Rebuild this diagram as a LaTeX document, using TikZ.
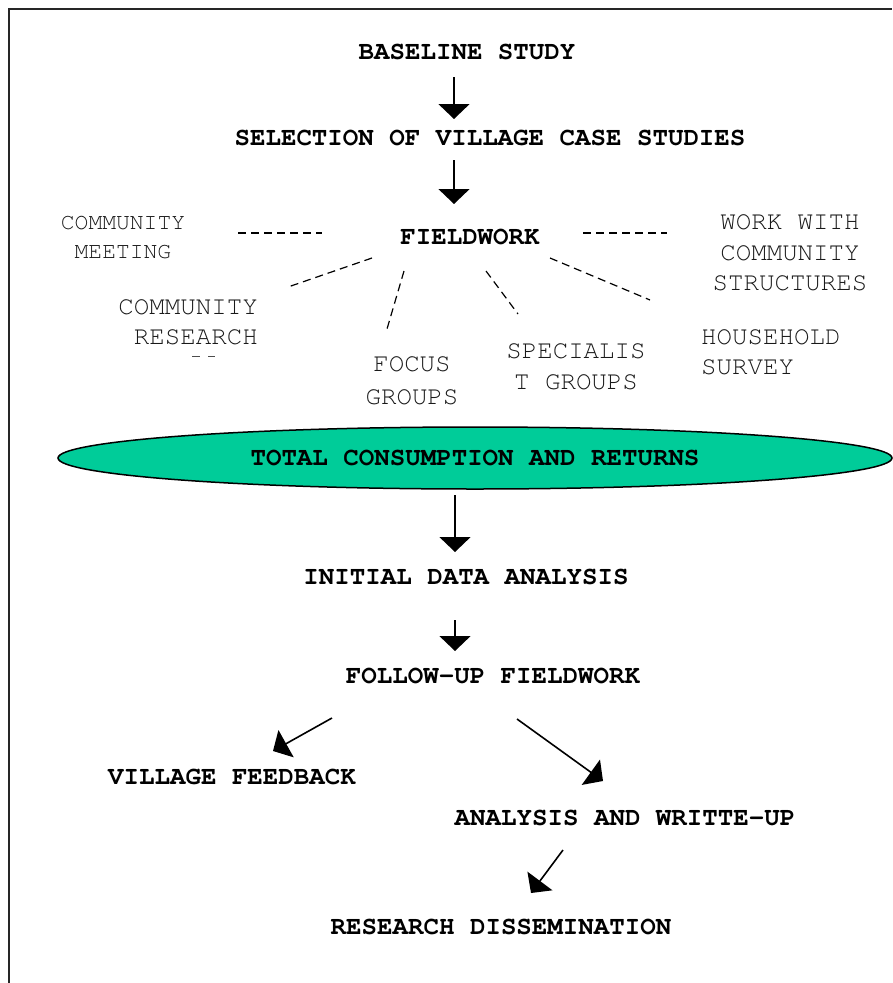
\documentclass[tikz,border=0pt]{standalone}
\usepackage{fontspec}
\usetikzlibrary{arrows.meta,shapes.geometric}
\newfontfamily\cour{TeX Gyre Cursor}
\definecolor{ellfill}{RGB}{0,204,153}
\tikzset{
  bt/.style={font=\cour\bfseries\fontsize{25.8pt}{30pt}\selectfont, inner sep=0pt, text=black},
  rt/.style={font=\cour\fontsize{25.8pt}{30.5pt}\selectfont, inner sep=0pt, text=black!90},
  smalltxt/.style={font=\cour\fontsize{23pt}{29pt}\selectfont, inner sep=0pt, text=black!90},
  arr/.style={line width=1.6pt, -{Triangle[length=15pt,width=31pt]}},
  dsh/.style={line width=1.2pt, dash pattern=on 8pt off 5pt},
  frame/.style={line width=1.6pt, draw=black!85}
}
\begin{document}
\begin{tikzpicture}[x=1pt,y=-1pt]
\useasboundingbox (0,0) rectangle (892,983);
% frame
\coordinate (fbl) at (9,983);
\coordinate (ftl) at (9,9);
\coordinate (ftr) at (892,9);
\draw[frame] (fbl) -- (ftl) -- (ftr);

% main chain
\node[bt] (base) at (467,52) {BASELINE STUDY};
\node[bt] (sel) at (490,138) {SELECTION OF VILLAGE CASE STUDIES};
\node[bt] (field) at (470,237) {FIELDWORK};

% side items
\node[smalltxt, align=center] (cm) at (123,237.5) {COMMUNITY\\MEETING};
\node[rt, align=center] (wwcs) at (790,253) {WORK WITH\\COMMUNITY\\STRUCTURES};
\node[rt, align=right, anchor=east] (cr) at (258,322.5) {COMMUNITY\\RESEARCH};
\node[rt, align=center, font=\cour\fontsize{25.8pt}{33pt}\selectfont] (fg) at (412,380.5) {FOCUS\\GROUPS};
\node[rt, align=center] (sg) at (576,367) {SPECIALIS\\T GROUPS};
\node[rt, align=left, anchor=west] (hh) at (701,352.5) {HOUSEHOLD\\SURVEY};

% clipped remnant of third line of community research
\coordinate (r1a) at (192,356); \coordinate (r1b) at (200,356);
\coordinate (r2a) at (208,356); \coordinate (r2b) at (215,356);
\draw[line width=1pt, black!70] (r1a) -- (r1b);
\draw[line width=1pt, black!70] (r2a) -- (r2b);

% dashed links
\coordinate (dl1) at (238,233); \coordinate (dl2) at (322,233);
\coordinate (dr1) at (583,233); \coordinate (dr2) at (667,233);
\draw[dsh] (dl1) -- (dl2);
\draw[dsh] (dr1) -- (dr2);
\coordinate (d1a) at (372,258); \coordinate (d1b) at (288,287);
\coordinate (d2a) at (404,271); \coordinate (d2b) at (387,329);
\coordinate (d3a) at (486,271); \coordinate (d3b) at (518,314);
\coordinate (d4a) at (550,258); \coordinate (d4b) at (650,300);
\draw[dsh] (d1a) -- (d1b);
\draw[dsh] (d2a) -- (d2b);
\draw[dsh] (d3a) -- (d3b);
\draw[dsh] (d4a) -- (d4b);

% ellipse
\node[draw=black, line width=1.5pt, fill=ellfill, ellipse, minimum width=834pt, minimum height=62pt, inner sep=0pt,
      font=\cour\bfseries\fontsize{25.8pt}{30pt}\selectfont] (total) at (475,458) {TOTAL CONSUMPTION AND RETURNS};

\node[bt] (ida) at (466,577) {INITIAL DATA ANALYSIS};
\node[bt] (fuf) at (493,676) {FOLLOW-UP FIELDWORK};
\node[bt] (vf) at (232,777) {VILLAGE FEEDBACK};
\node[bt] (awu) at (625,818) {ANALYSIS AND WRITTE-UP};
\node[bt] (rd) at (501,927) {RESEARCH DISSEMINATION};

% arrows
\coordinate (a1s) at (454,77);  \coordinate (a1e) at (454,119);
\coordinate (a2s) at (454,160); \coordinate (a2e) at (454,204);
\coordinate (a3s) at (455,495); \coordinate (a3e) at (455,552);
\coordinate (a4s) at (455,620); \coordinate (a4e) at (455,651);
\coordinate (a5s) at (332,718); \coordinate (a5e) at (273,751);
\coordinate (a6s) at (517,719); \coordinate (a6e) at (603,781);
\coordinate (a7s) at (563,850); \coordinate (a7e) at (531,893);
\draw[arr] (a1s) -- (a1e);
\draw[arr] (a2s) -- (a2e);
\draw[arr] (a3s) -- (a3e);
\draw[arr] (a4s) -- (a4e);
\draw[arr] (a5s) -- (a5e);
\draw[arr] (a6s) -- (a6e);
\draw[arr] (a7s) -- (a7e);
\end{tikzpicture}
\end{document}
